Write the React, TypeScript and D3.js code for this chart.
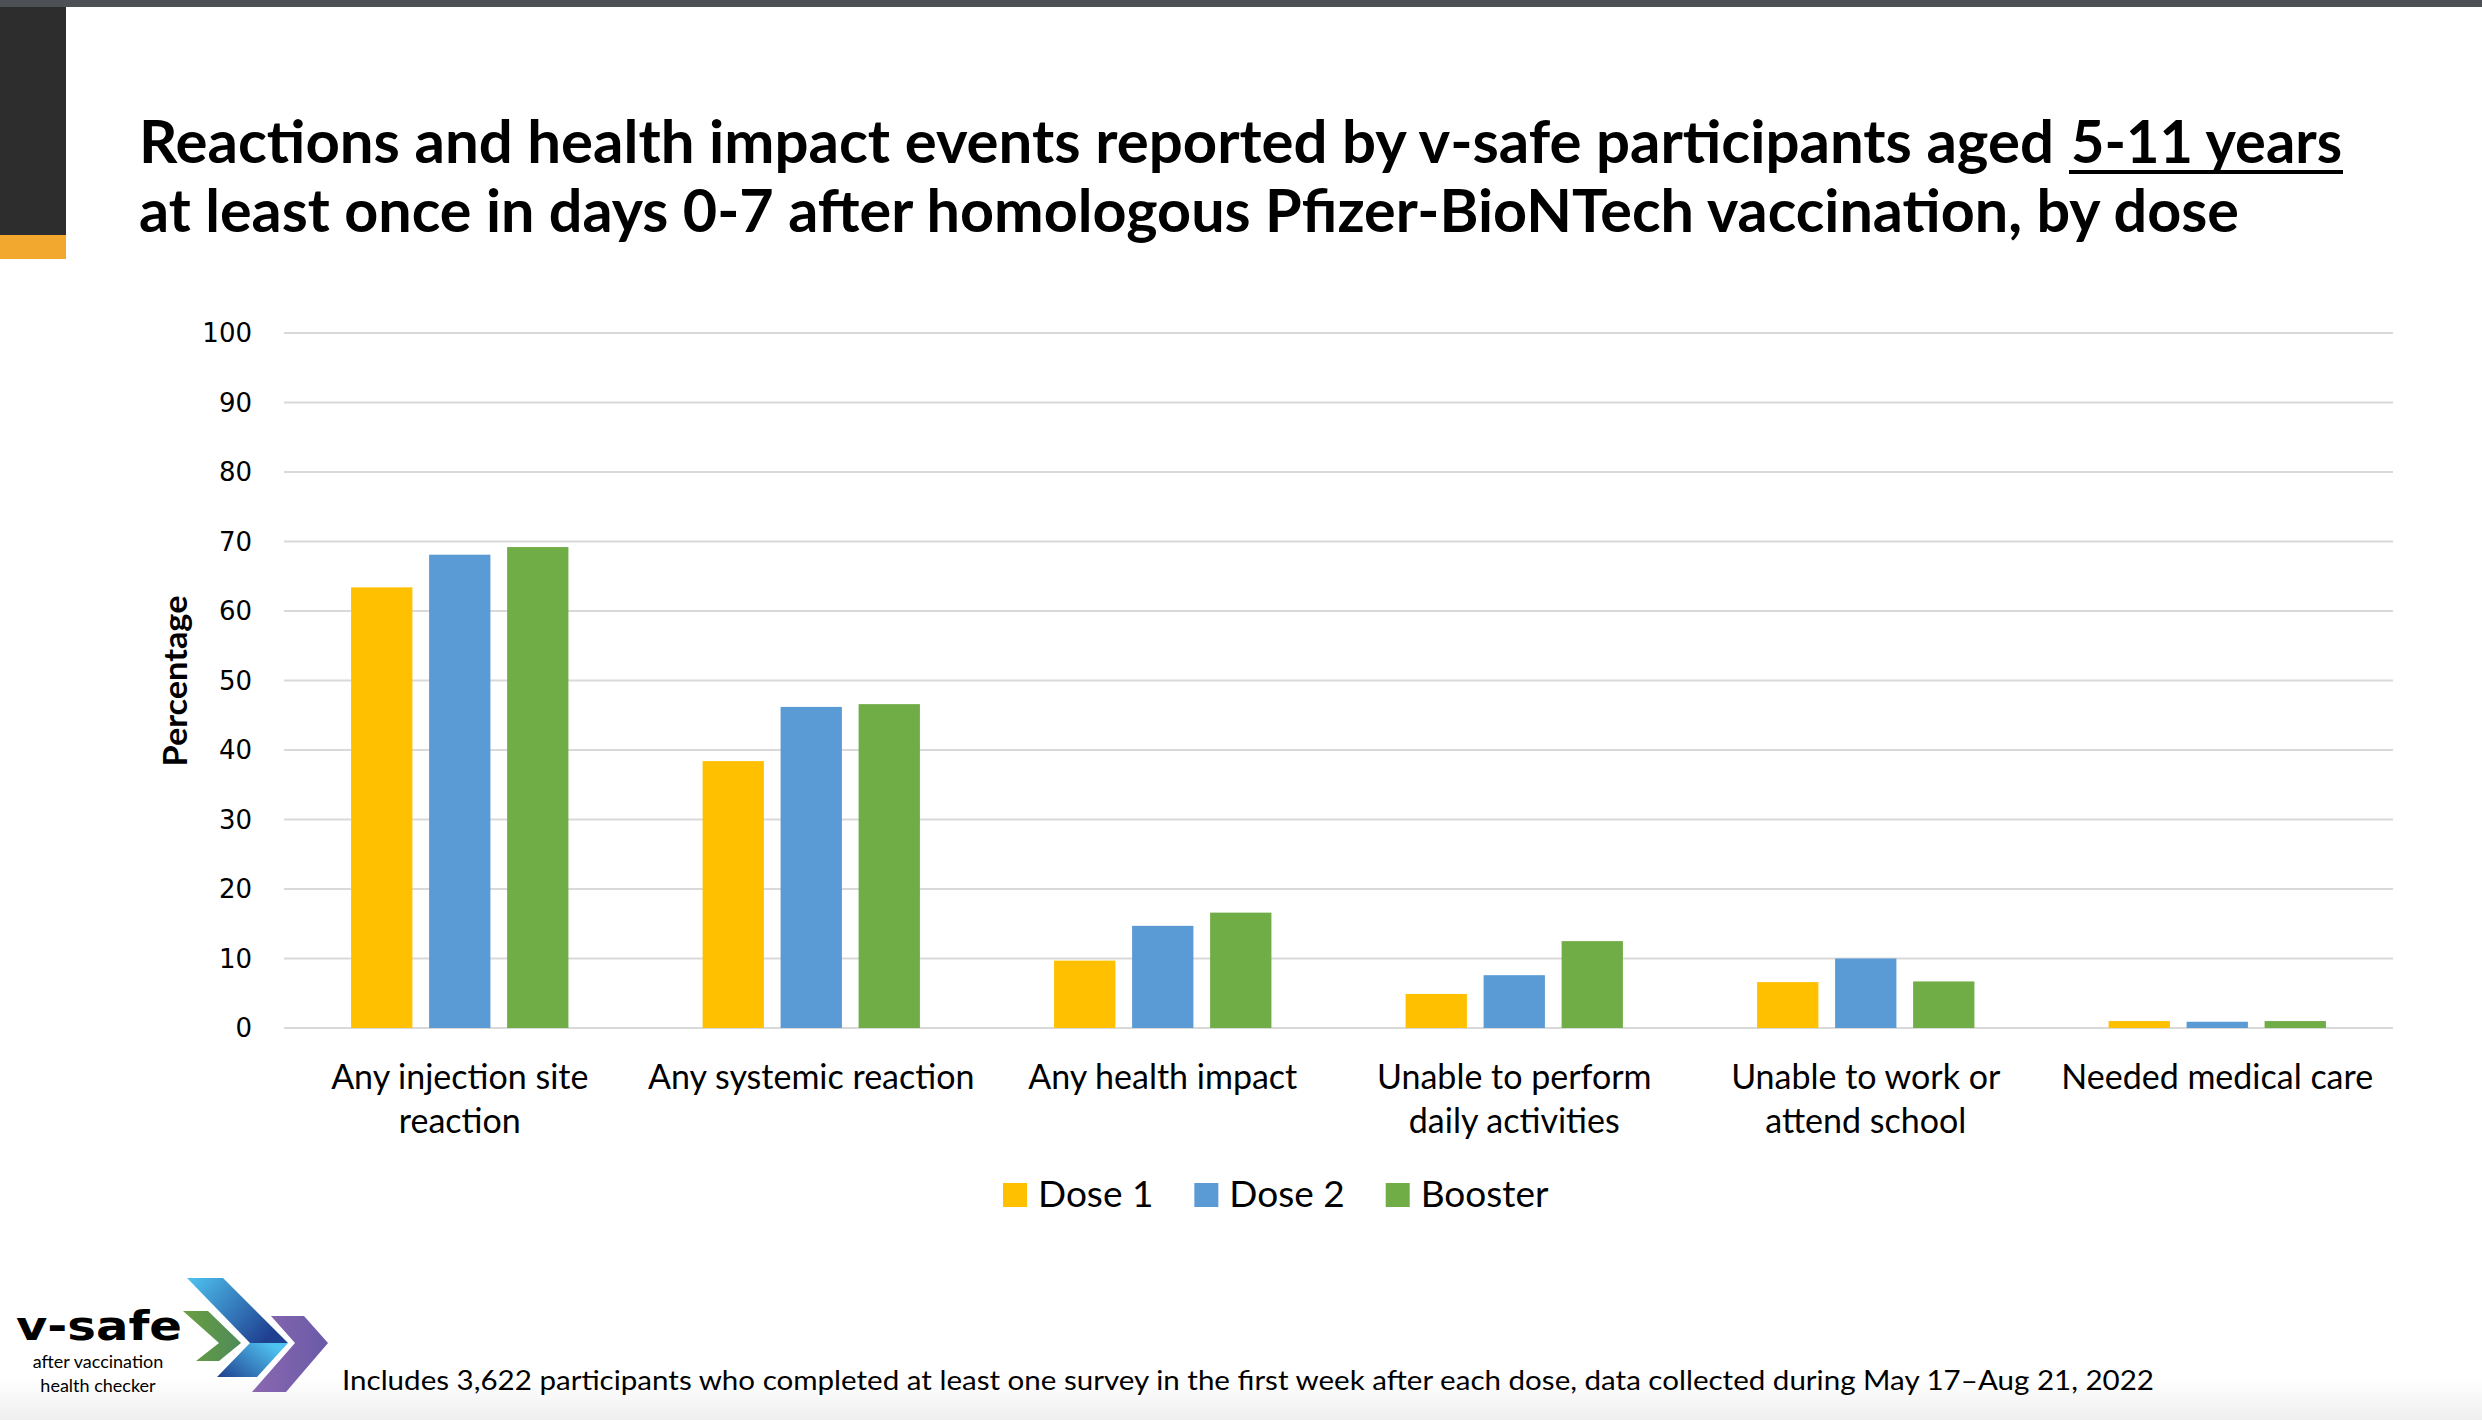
import React, { useEffect, useRef } from "react";
import * as d3 from "d3";

// chart data
const categories = [
  "Any injection site\nreaction",
  "Any systemic reaction",
  "Any health impact",
  "Unable to perform\ndaily activities",
  "Unable to work or\nattend school",
  "Needed medical care",
];
const seriesNames = ["Dose 1", "Dose 2", "Booster"];
const dose1 = [63.4, 38.4, 9.7, 4.9, 6.6, 1.0];
const dose2 = [68.1, 46.2, 14.7, 7.6, 10.0, 0.9];
const booster = [69.2, 46.6, 16.6, 12.5, 6.7, 1.0];
const seriesColors = ["#FFC000", "#5B9BD5", "#70AD47"];
const yTicks = [0, 10, 20, 30, 40, 50, 60, 70, 80, 90, 100];

const titleLine1 = "Reactions and health impact events reported by v-safe participants aged";
const titleUnderlined = "5-11 years";
const titleLine2 = "at least once in days 0-7 after homologous Pfizer-BioNTech vaccination, by dose";
const footnote =
  "Includes 3,622 participants who completed at least one survey in the first week after each dose, data collected during May 17\u2013Aug 21, 2022";
const logoLines = ["after vaccination", "health checker"];

const W = 2482;
const H = 1420;
const FONT = "Lato, 'Open Sans', sans-serif";

const App: React.FC = () => {
  const svgRef = useRef<SVGSVGElement>(null);

  useEffect(() => {
    document.body.style.margin = "0";
    if (!svgRef.current) return;
    const svg = d3.select(svgRef.current);
    svg.selectAll("*").remove();

    svg.attr("width", W).attr("height", H).attr("viewBox", `0 0 ${W} ${H}`);

    const defs = svg.append("defs");
    const grad = (id: string, c1: string, c2: string, x1 = "0", y1 = "0", x2 = "1", y2 = "1") => {
      const g = defs.append("linearGradient").attr("id", id)
        .attr("x1", x1).attr("y1", y1).attr("x2", x2).attr("y2", y2);
      g.append("stop").attr("offset", "0").attr("stop-color", c1);
      g.append("stop").attr("offset", "1").attr("stop-color", c2);
    };
    grad("gBlue", "#4fc3f0", "#1f3f8f", "0", "0", "1", "0.6");
    grad("gBlue2", "#1f3f8f", "#4fc3f0", "0", "1", "1", "0.4");
    grad("gGreen", "#6aa040", "#4e8a5a", "0", "0", "1", "0");
    grad("gPurple", "#8a68b0", "#6a5aa8", "0", "0", "1", "0");
    grad("gFloor", "#ffffff", "#efefef", "0", "0", "0", "1");

    svg.append("rect").attr("width", W).attr("height", H).attr("fill", "#ffffff");
    svg.append("rect").attr("x", 0).attr("y", 1378).attr("width", W).attr("height", H - 1378)
      .attr("fill", "url(#gFloor)");

    // slide decoration
    svg.append("rect").attr("x", 0).attr("y", 0).attr("width", W).attr("height", 7).attr("fill", "#4d5156");
    svg.append("rect").attr("x", 0).attr("y", 7).attr("width", 66).attr("height", 228).attr("fill", "#2d2d2d");
    svg.append("rect").attr("x", 0).attr("y", 235).attr("width", 66).attr("height", 24).attr("fill", "#f2a72e");

    // title
    svg.append("text").attr("x", 139).attr("y", 163)
      .attr("font-family", FONT).attr("font-weight", 700).attr("font-size", 60)
      .attr("textLength", 1915).attr("lengthAdjust", "spacingAndGlyphs")
      .text(titleLine1);
    svg.append("text").attr("x", 2071).attr("y", 163)
      .attr("font-family", FONT).attr("font-weight", 700).attr("font-size", 60)
      .attr("textLength", 271).attr("lengthAdjust", "spacingAndGlyphs")
      .text(titleUnderlined);
    svg.append("rect").attr("x", 2069).attr("y", 170).attr("width", 274).attr("height", 4).attr("fill", "#000");
    svg.append("text").attr("x", 139).attr("y", 232)
      .attr("font-family", FONT).attr("font-weight", 700).attr("font-size", 60)
      .attr("textLength", 2100).attr("lengthAdjust", "spacingAndGlyphs")
      .text(titleLine2);

    // scales
    const x0 = d3.scaleBand<string>().domain(categories).range([284, 2393]).padding(0);
    const x1 = d3.scaleBand<string>().domain(seriesNames).range([0, x0.bandwidth()])
      .paddingInner(0.214).paddingOuter(0.86);
    const y = d3.scaleLinear().domain([0, 100]).range([1028, 333]);

    const series = [dose1, dose2, booster];

    // grid
    const g = svg.append("g");
    g.selectAll("line.grid")
      .data(yTicks)
      .join("line")
      .attr("class", "grid")
      .attr("x1", 284).attr("x2", 2393)
      .attr("y1", d => y(d)).attr("y2", d => y(d))
      .attr("stroke", "#d9d9d9").attr("stroke-width", 2);

    g.selectAll("text.ytick")
      .data(yTicks)
      .join("text")
      .attr("class", "ytick")
      .attr("x", 252).attr("y", d => y(d))
      .attr("dy", "0.36em")
      .attr("text-anchor", "end")
      .attr("font-family", "'DejaVu Sans', sans-serif")
      .attr("font-size", 26)
      .attr("fill", "#000")
      .text(d => d);

    svg.append("text")
      .attr("transform", `translate(187,${681}) rotate(-90)`)
      .attr("text-anchor", "middle")
      .attr("font-family", FONT).attr("font-weight", 700).attr("font-size", 33)
      .attr("textLength", 171).attr("lengthAdjust", "spacingAndGlyphs")
      .text("Percentage");

    // bars
    seriesNames.forEach((s, si) => {
      g.selectAll(`rect.s${si}`)
        .data(series[si])
        .join("rect")
        .attr("class", `s${si}`)
        .attr("x", (_, i) => (x0(categories[i]) ?? 0) + (x1(s) ?? 0))
        .attr("y", d => y(d))
        .attr("width", x1.bandwidth())
        .attr("height", d => y(0) - y(d))
        .attr("fill", seriesColors[si]);
    });

    // category labels
    categories.forEach(c => {
      const cx = (x0(c) ?? 0) + x0.bandwidth() / 2;
      const t = svg.append("text")
        .attr("text-anchor", "middle")
        .attr("font-family", FONT).attr("font-size", 34).attr("fill", "#000");
      c.split("\n").forEach((line, li) => {
        t.append("tspan").attr("x", cx).attr("y", 1089 + li * 44).text(line);
      });
    });

    // legend
    let lx = 1003;
    seriesNames.forEach((s, si) => {
      svg.append("rect").attr("x", lx).attr("y", 1183).attr("width", 24).attr("height", 24)
        .attr("fill", seriesColors[si]);
      const t = svg.append("text").attr("x", lx + 35).attr("y", 1207)
        .attr("font-family", FONT).attr("font-size", 37).attr("fill", "#000").text(s);
      const w = (t.node() as SVGTextElement).getComputedTextLength();
      lx = lx + 35 + w + 41;
    });

    // footnote
    svg.append("text").attr("x", 342).attr("y", 1390)
      .attr("font-family", FONT).attr("font-size", 27).attr("fill", "#000")
      .attr("textLength", 1812).attr("lengthAdjust", "spacingAndGlyphs")
      .text(footnote);

    // v-safe logo
    const logo = svg.append("g");
    logo.append("polygon")
      .attr("points", "183,1311 208,1311 241,1343 219,1361 196,1361 219,1343")
      .attr("fill", "url(#gGreen)");
    logo.append("polygon")
      .attr("points", "187,1278 223,1278 288,1343 250,1343")
      .attr("fill", "url(#gBlue)");
    logo.append("polygon")
      .attr("points", "250,1343 288,1343 257,1377 217,1377")
      .attr("fill", "url(#gBlue2)");
    logo.append("polygon")
      .attr("points", "271,1316 304,1316 328,1343 286,1392 252,1392 295,1343")
      .attr("fill", "url(#gPurple)");
    logo.append("text").attr("x", 16).attr("y", 1340)
      .attr("font-family", "'DejaVu Sans', sans-serif").attr("font-weight", 700).attr("font-size", 40)
      .attr("textLength", 166).attr("lengthAdjust", "spacingAndGlyphs")
      .text("v-safe");
    const sub = logo.append("text").attr("text-anchor", "middle")
      .attr("font-family", FONT).attr("font-size", 18).attr("fill", "#000");
    logoLines.forEach((line, li) => {
      sub.append("tspan").attr("x", 98).attr("y", 1368 + li * 24).text(line);
    });
  }, []);

  return <svg ref={svgRef} style={{ display: "block" }} />;
};

export default App;
